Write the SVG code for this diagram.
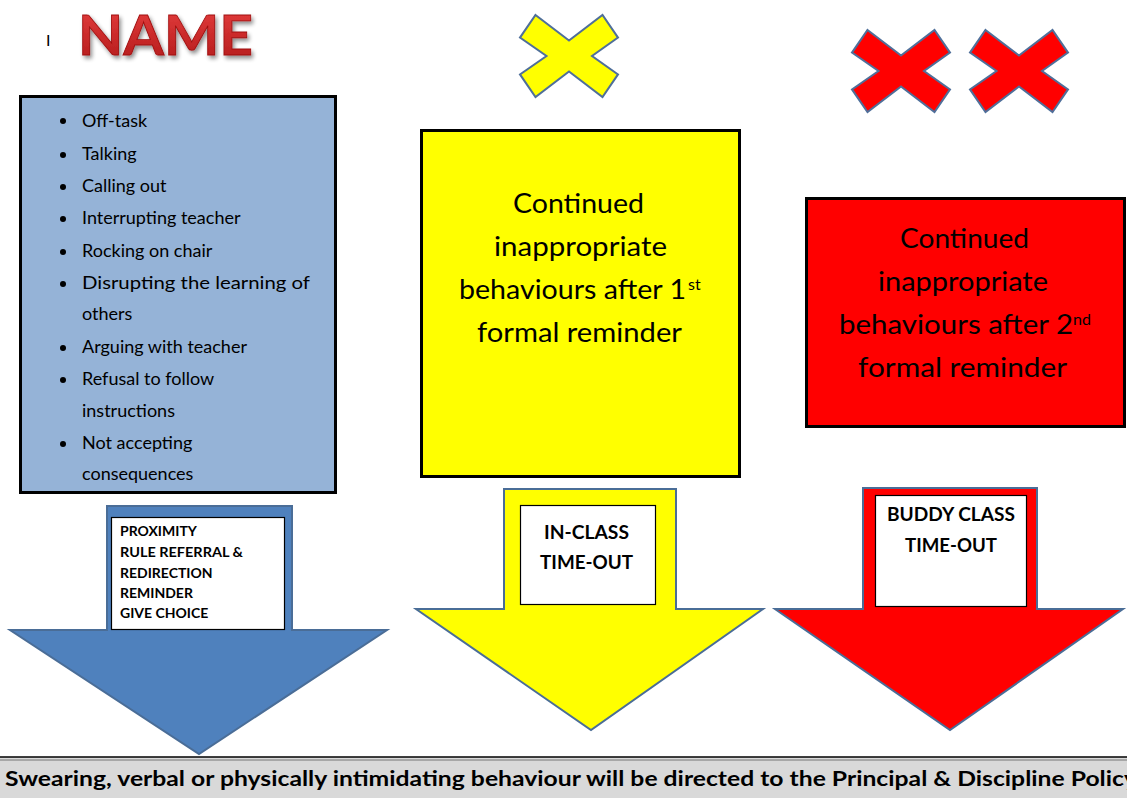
<svg xmlns="http://www.w3.org/2000/svg" width="1127" height="798" viewBox="0 0 1127 798">
<defs>
<style>
.t{font-family:Lato,"Open Sans","Liberation Sans",sans-serif;fill:#000}
.li{font-size:18px}
.big{font-size:27px}
.sup{font-size:16px}
.lab{font-size:14px;font-weight:bold}
.lab2{font-size:18px;font-weight:bold}
.box{stroke:#000;stroke-width:3}
.arr{stroke:#4A6D97;stroke-width:2;stroke-linejoin:miter}
.wb{fill:#fff;stroke:#000;stroke-width:1.2}
.x{stroke:#4F6F9A;stroke-width:2;stroke-linejoin:miter}
</style>
<linearGradient id="ng" x1="0" y1="0" x2="0" y2="1">
<stop offset="0" stop-color="#E84040"/>
<stop offset="1" stop-color="#B01818"/>
</linearGradient>
<filter id="sh" x="-10%" y="-20%" width="130%" height="150%">
<feGaussianBlur in="SourceAlpha" stdDeviation="2"/>
<feOffset dx="2" dy="3" result="b"/>
<feComponentTransfer><feFuncA type="linear" slope="0.45"/></feComponentTransfer>
<feMerge><feMergeNode/><feMergeNode in="SourceGraphic"/></feMerge>
</filter>
<polygon id="xs" points="-33.5,-41 0,-15.5 33.5,-41 49,-18.4 23,0 49,18.4 33.5,41 0,15.5 -33.5,41 -49,18.4 -22.5,0 -49,-18.4"/>
</defs>
<rect width="1127" height="798" fill="#fff"/>

<g id="title">
<text class="t" x="46" y="46" font-size="16">I</text>
<text x="78" y="55" font-family="Lato,'Open Sans',sans-serif" font-weight="bold" font-size="55" textLength="175" lengthAdjust="spacingAndGlyphs" fill="url(#ng)" stroke="#A01010" stroke-width="0.8" filter="url(#sh)">NAME</text>
</g>

<g id="marks">
<use href="#xs" x="569" y="56" fill="#FFFF00" class="x"/>
<use href="#xs" x="901" y="71" fill="#FF0000" class="x"/>
<use href="#xs" x="1019" y="71" fill="#FF0000" class="x"/>
</g>

<g id="behaviours">
<rect x="20.5" y="96.5" width="315" height="396" fill="#95B3D7" class="box"/>
<g fill="#000">
<circle cx="63" cy="121" r="3"/><circle cx="63" cy="155" r="3"/><circle cx="63" cy="187" r="3"/><circle cx="63" cy="219" r="3"/><circle cx="63" cy="252" r="3"/><circle cx="63" cy="284" r="3"/><circle cx="63" cy="348" r="3"/><circle cx="63" cy="380" r="3"/><circle cx="63" cy="444" r="3"/>
</g>
<text class="t li" x="82" y="127">Off-task</text>
<text class="t li" x="82" y="160">Talking</text>
<text class="t li" x="82" y="192">Calling out</text>
<text class="t li" x="82" y="224">Interrupting teacher</text>
<text class="t li" x="82" y="257">Rocking on chair</text>
<text class="t li" x="82" y="289" textLength="228" lengthAdjust="spacingAndGlyphs">Disrupting the learning of</text>
<text class="t li" x="82" y="320">others</text>
<text class="t li" x="82" y="353">Arguing with teacher</text>
<text class="t li" x="82" y="385">Refusal to follow</text>
<text class="t li" x="82" y="417">instructions</text>
<text class="t li" x="82" y="449">Not accepting</text>
<text class="t li" x="82" y="480">consequences</text>
</g>

<g id="first-reminder">
<rect x="421.5" y="130.5" width="318" height="346" fill="#FFFF00" class="box"/>
<text class="t big" x="513" y="213" textLength="131" lengthAdjust="spacingAndGlyphs">Continued</text>
<text class="t big" x="494" y="256" textLength="173" lengthAdjust="spacingAndGlyphs">inappropriate</text>
<text class="t big" x="459" y="299" textLength="227" lengthAdjust="spacingAndGlyphs">behaviours after 1</text>
<text class="t sup" x="688" y="290">st</text>
<text class="t big" x="477" y="342" textLength="205" lengthAdjust="spacingAndGlyphs">formal reminder</text>
</g>

<g id="second-reminder">
<rect x="806.5" y="198.5" width="318" height="228" fill="#FF0000" class="box"/>
<text class="t big" x="900" y="248" textLength="129" lengthAdjust="spacingAndGlyphs">Continued</text>
<text class="t big" x="878" y="291" textLength="170" lengthAdjust="spacingAndGlyphs">inappropriate</text>
<text class="t big" x="839" y="334" textLength="234" lengthAdjust="spacingAndGlyphs">behaviours after 2</text>
<text class="t sup" x="1073" y="325">nd</text>
<text class="t big" x="858" y="377" textLength="209" lengthAdjust="spacingAndGlyphs">formal reminder</text>
</g>

<g id="connectors">
<g id="arrow-blue">
<polygon points="107,506 292,506 292,630 387,630 199,754 10,630 107,630" fill="#4F81BD" class="arr"/>
<rect x="111.5" y="517.5" width="173" height="112" class="wb"/>
<text class="t lab" x="120" y="536">PROXIMITY</text>
<text class="t lab" x="120" y="557" textLength="123" lengthAdjust="spacingAndGlyphs">RULE REFERRAL &amp;</text>
<text class="t lab" x="120" y="578">REDIRECTION</text>
<text class="t lab" x="120" y="598">REMINDER</text>
<text class="t lab" x="120" y="618">GIVE CHOICE</text>
</g>
<g id="arrow-yellow">
<polygon points="504,489 676,489 676,609 763,609 591,730 416,609 504,609" fill="#FFFF00" class="arr"/>
<rect x="520.5" y="505.5" width="135" height="99" class="wb"/>
<text class="t lab2" x="544" y="539" textLength="85" lengthAdjust="spacingAndGlyphs">IN-CLASS</text>
<text class="t lab2" x="540" y="569" textLength="93" lengthAdjust="spacingAndGlyphs">TIME-OUT</text>
</g>
<g id="arrow-red">
<polygon points="863,488 1037,488 1037,609 1123,609 950,730 775,609 863,609" fill="#FF0000" class="arr"/>
<rect x="875.5" y="495.5" width="151" height="111" class="wb"/>
<text class="t lab2" x="887" y="521" textLength="128" lengthAdjust="spacingAndGlyphs">BUDDY CLASS</text>
<text class="t lab2" x="905" y="552" textLength="92" lengthAdjust="spacingAndGlyphs">TIME-OUT</text>
</g>
</g>

<g id="footer">
<rect x="0" y="757" width="1127" height="41" fill="#D9D9D9"/>
<line x1="0" y1="757" x2="1127" y2="757" stroke="#000" stroke-width="1.5"/>
<line x1="0" y1="760" x2="1127" y2="760" stroke="#777" stroke-width="1"/>
<text class="t" x="5" y="786" font-size="20" font-weight="bold" textLength="1132" lengthAdjust="spacingAndGlyphs">Swearing, verbal or physically intimidating behaviour will be directed to the Principal &amp; Discipline Policy</text>
</g>
</svg>
